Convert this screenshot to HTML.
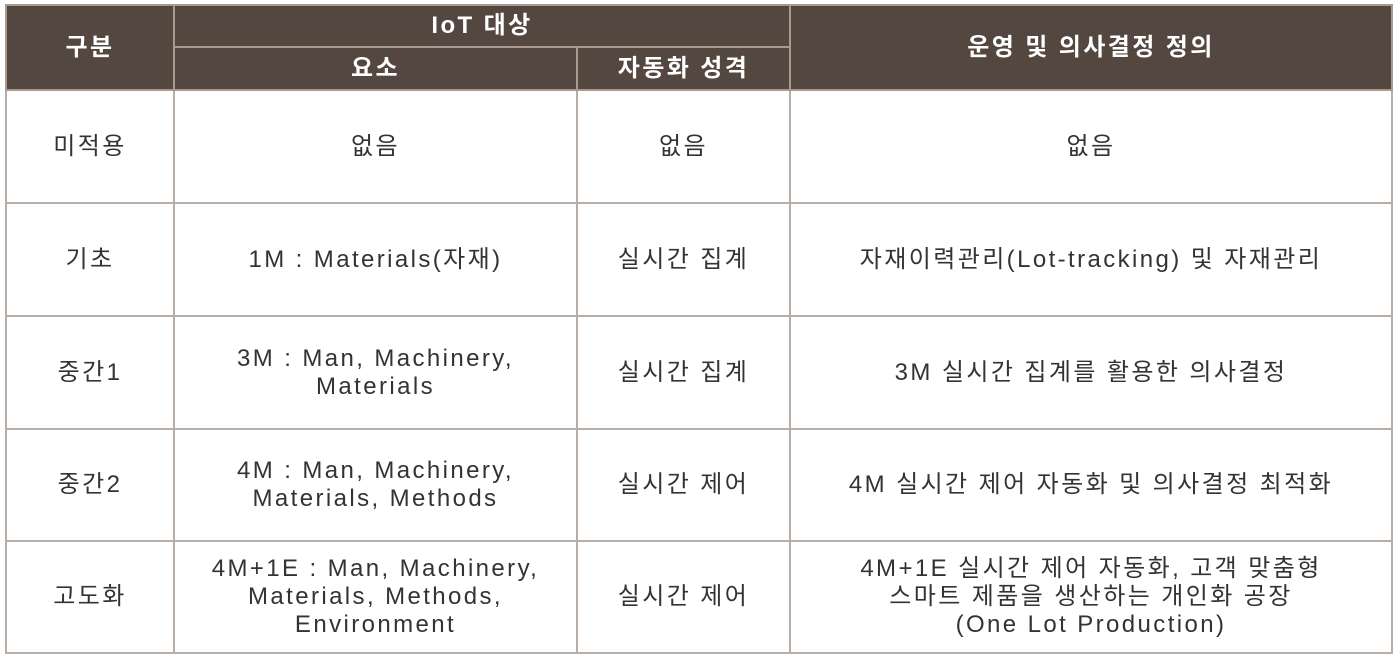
<!DOCTYPE html>
<html><head><meta charset="utf-8"><style>
body{margin:0;width:1396px;height:660px;background:#fff;overflow:hidden;font-family:"Liberation Sans","Noto Sans CJK KR",sans-serif}
table{position:absolute;left:5px;top:4px;border-collapse:collapse;table-layout:fixed}
td,th{border:2px solid #b9aea6;text-align:center;vertical-align:middle;padding:0;font-size:24px;letter-spacing:2.4px;line-height:28px;color:#333;font-weight:normal}
th{background:#54473f;color:#fff;border-color:#a89a90;font-weight:bold}
</style></head><body>
<table>
<colgroup><col style="width:168px"><col style="width:403px"><col style="width:213px"><col style="width:602px"></colgroup>
<tr style="height:42px"><th rowspan="2">구분</th><th colspan="2">IoT 대상</th><th rowspan="2">운영 및 의사결정 정의</th></tr>
<tr style="height:43px"><th>요소</th><th>자동화 성격</th></tr>
<tr style="height:113px"><td>미적용</td><td>없음</td><td>없음</td><td>없음</td></tr>
<tr style="height:113px"><td>기초</td><td>1M : Materials(자재)</td><td>실시간 집계</td><td>자재이력관리(Lot-tracking) 및 자재관리</td></tr>
<tr style="height:113px"><td>중간1</td><td>3M : Man, Machinery,<br>Materials</td><td>실시간 집계</td><td>3M 실시간 집계를 활용한 의사결정</td></tr>
<tr style="height:112px"><td>중간2</td><td>4M : Man, Machinery,<br>Materials, Methods</td><td>실시간 제어</td><td>4M 실시간 제어 자동화 및 의사결정 최적화</td></tr>
<tr style="height:112px"><td>고도화</td><td>4M+1E : Man, Machinery,<br>Materials, Methods,<br>Environment</td><td>실시간 제어</td><td>4M+1E 실시간 제어 자동화, 고객 맞춤형<br>스마트 제품을 생산하는 개인화 공장<br>(One Lot Production)</td></tr>
</table>
</body></html>
